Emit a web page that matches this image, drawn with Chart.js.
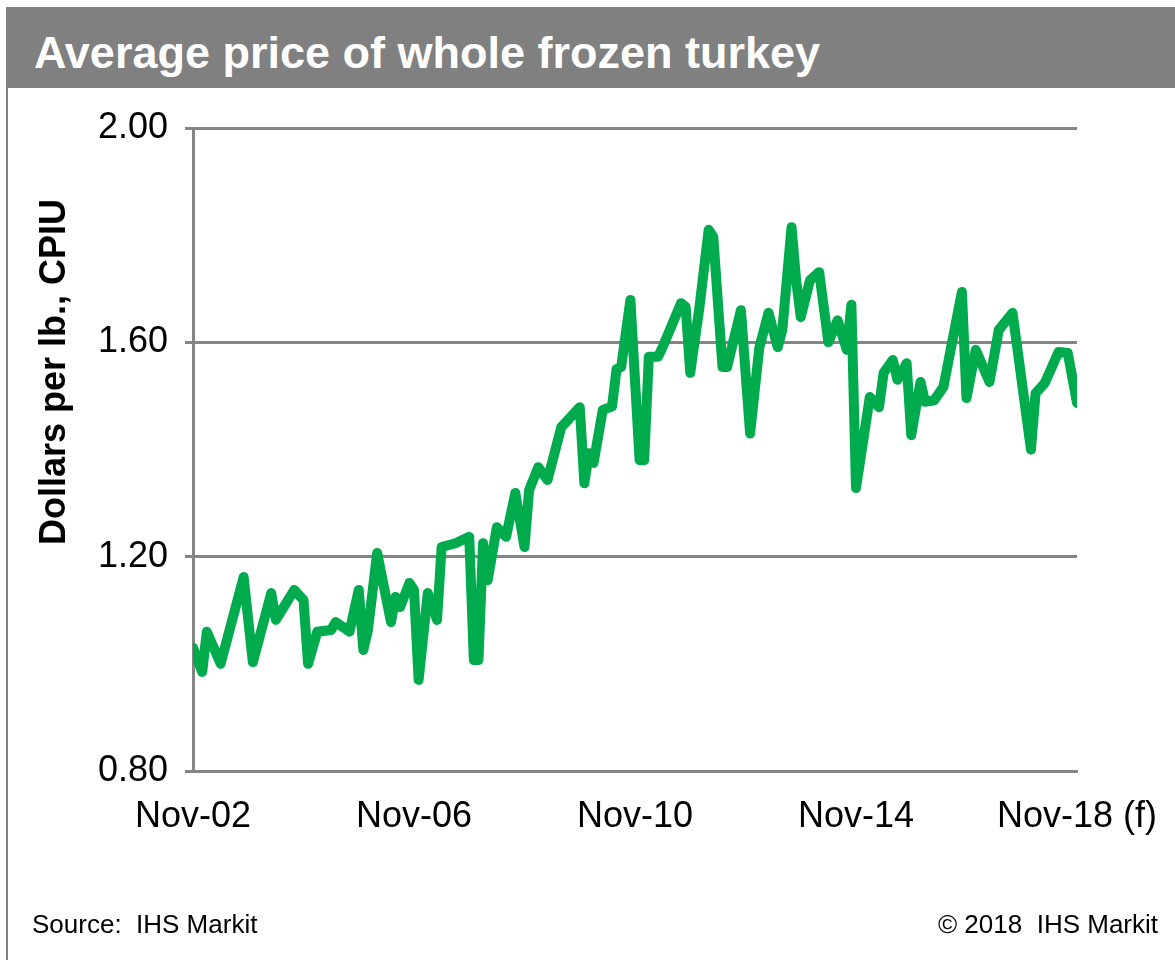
<!DOCTYPE html>
<html lang="en">
<head>
  <meta charset="UTF-8" />
  <title>Average price of whole frozen turkey</title>
  <script src="https://cdn.jsdelivr.net/npm/chart.js"></script>
  <style>
    body { margin: 0; font-family: "Liberation Sans", Arial, sans-serif; background: #fff; }
    #wrap { position: relative; width: 1175px; height: 960px; overflow: hidden; }
    #bar { position: absolute; left: 6px; top: 7px; width: 1169px; height: 81px; background: #808080; }
    #title { position: absolute; left: 34px; top: 30px; font-size: 45px; line-height: 45px; font-weight: bold; color: #fff; white-space: nowrap; }
    #frame { position: absolute; left: 6px; top: 88px; width: 2px; height: 872px; background: #808080; }
    #ytitle { position: absolute; left: -147px; top: 352px; width: 400px; height: 40px; line-height: 40px; text-align: center;
              font-size: 36px; font-weight: bold; color: #000; transform: rotate(-90deg); white-space: nowrap; }
    .note { position: absolute; top: 911px; font-size: 26px; line-height: 26px; color: #000; white-space: nowrap; }
    #source { left: 32px; }
    #copy { right: 17px; }
    canvas { position: absolute; left: 0; top: 0; }
  </style>
</head>
<body>
  <div id="wrap">
    <div id="bar"></div>
    <div id="title">Average price of whole frozen turkey</div>
    <div id="frame"></div>
    <canvas id="turkeyChart" width="1175" height="960"></canvas>
    <div id="ytitle">Dollars per lb., CPIU</div>
    <div class="note" id="source">Source:&nbsp; IHS Markit</div>
    <div class="note" id="copy">© 2018&nbsp; IHS Markit</div>
  </div>

  <script>
    // months since Nov-02, and price
    const months = [0, 2, 3, 6, 11, 13, 17, 18, 22, 24, 25, 27, 30, 31, 34, 36, 37, 38, 40, 43,
      44, 45, 47, 48, 49, 51, 53, 54, 57, 60, 61, 62, 63, 64, 66, 68, 70, 72, 73, 75,
      77, 80, 81, 84, 85, 86, 87, 89, 91, 92, 93, 95, 97, 98, 99, 101, 102, 106, 107, 108,
      110, 112, 113, 115, 116, 119, 121, 123, 125, 127, 128, 130, 131, 132, 134, 136, 138, 140, 142, 143,
      144, 147, 149, 150, 152, 153, 155, 156, 158, 159, 161, 163, 167, 168, 170, 173, 175, 178, 182, 183,
      185, 188, 190, 192];
    const prices = [1.03, 0.985, 1.06, 1.00, 1.162, 1.003, 1.132, 1.082, 1.138, 1.119, 1.00, 1.06, 1.063, 1.078, 1.06, 1.138, 1.026, 1.063, 1.207, 1.078,
      1.125, 1.106, 1.151, 1.138, 0.97, 1.132, 1.082, 1.218, 1.225, 1.237, 1.007, 1.007, 1.225, 1.156, 1.255, 1.237, 1.319, 1.218, 1.324, 1.367,
      1.343, 1.442, 1.451, 1.479, 1.337, 1.393, 1.375, 1.474, 1.48, 1.55, 1.554, 1.679, 1.38, 1.38, 1.573, 1.573, 1.591, 1.673, 1.666, 1.543,
      1.666, 1.81, 1.797, 1.554, 1.554, 1.66, 1.43, 1.59, 1.655, 1.591, 1.623, 1.815, 1.716, 1.647, 1.716, 1.731, 1.60, 1.641, 1.586, 1.67,
      1.328, 1.498, 1.479, 1.543, 1.567, 1.53, 1.561, 1.427, 1.526, 1.489, 1.492, 1.517, 1.694, 1.496, 1.586, 1.526, 1.623, 1.655, 1.40, 1.505,
      1.524, 1.582, 1.58, 1.487];

    const xTickPos = [0, 48, 96, 144, 192];
    const xTickLabels = ['Nov-02', 'Nov-06', 'Nov-10', 'Nov-14', 'Nov-18 (f)'];
    const yTicks = [0.80, 1.20, 1.60, 2.00];

    const grey = '#858585';
    const font = { family: '"Liberation Sans", Arial, sans-serif', size: 36 };

    new Chart(document.getElementById('turkeyChart'), {
      type: 'line',
      data: {
        datasets: [{
          label: 'Average price',
          data: months.map((m, i) => ({ x: m, y: prices[i] })),
          borderColor: '#00AB4E',
          borderWidth: 10,
          borderJoinStyle: 'round',
          borderCapStyle: 'round',
          pointRadius: 0,
          tension: 0
        }]
      },
      options: {
        responsive: false,
        animation: false,
        layout: { padding: { top: 128, right: 98, left: 0, bottom: 0 } },
        plugins: { legend: { display: false }, tooltip: { enabled: false } },
        scales: {
          x: {
            type: 'linear',
            min: 0,
            max: 192,
            afterBuildTicks: (s) => { s.ticks = xTickPos.map(v => ({ value: v })); },
            // fixed axis band; labels may overhang into the side margins
            afterFit: (s) => { s.height = 189; s.paddingLeft = 0; s.paddingRight = 0; },
            ticks: {
              autoSkip: false,
              maxRotation: 0,
              padding: 24,
              color: '#000',
              font: font,
              callback: (v) => xTickLabels[xTickPos.indexOf(v)]
            },
            grid: { display: false, drawTicks: false },
            border: { display: true, color: grey, width: 3 }
          },
          y: {
            min: 0.8,
            max: 2.0,
            afterBuildTicks: (s) => { s.ticks = yTicks.map(v => ({ value: v })); },
            afterFit: (s) => { s.width = 193; s.paddingTop = 0; s.paddingBottom = 0; },
            ticks: {
              padding: 17,
              color: '#000',
              font: font,
              callback: (v) => Number(v).toFixed(2)
            },
            grid: { color: grey, lineWidth: 3, tickLength: 8 },
            border: { display: true, color: grey, width: 3 }
          }
        }
      }
    });
  </script>
</body>
</html>
